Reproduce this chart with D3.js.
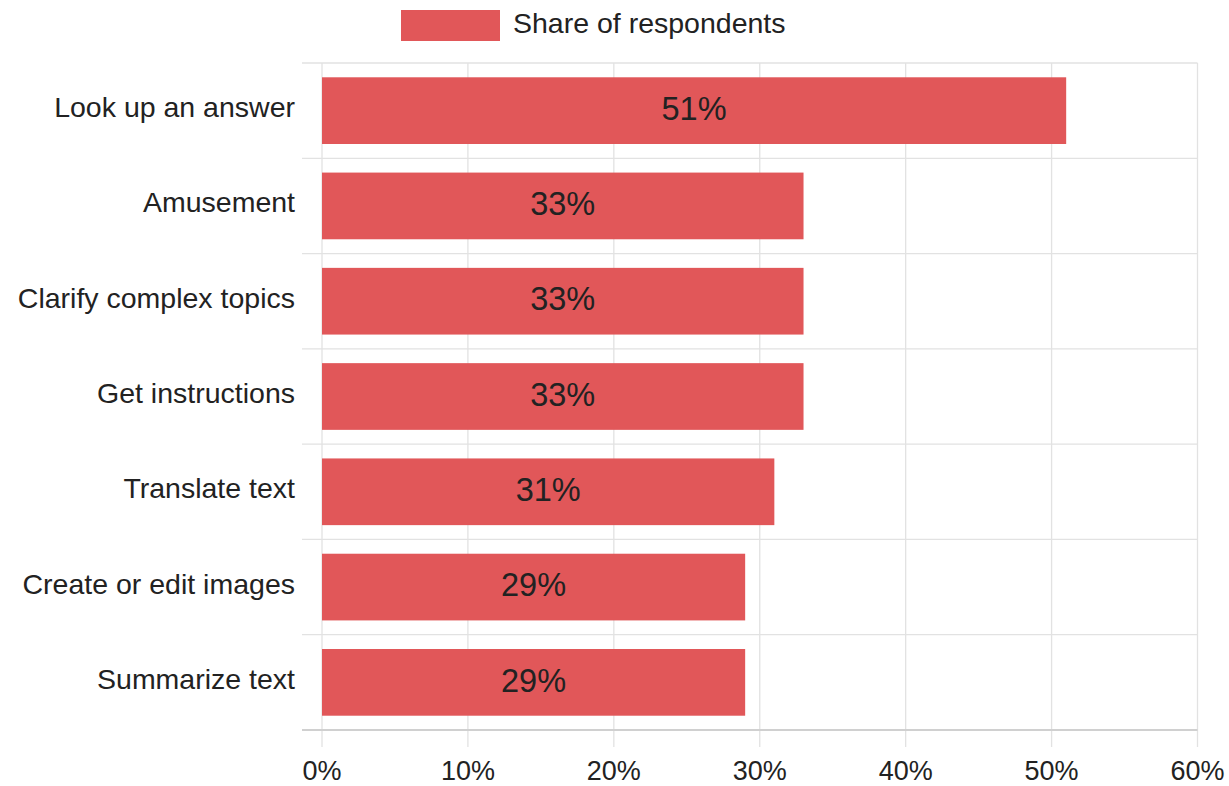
<!DOCTYPE html>
<html>
<head>
<meta charset="utf-8">
<script src="https://cdn.jsdelivr.net/npm/d3@7/dist/d3.min.js"></script>
<style>
  html, body { margin: 0; padding: 0; background: #fff; }
  svg { display: block; font-family: "Liberation Sans", Arial, sans-serif; }
</style>
</head>
<body>
<svg id="chart" width="1229" height="786"></svg>
<script>
const categories = ["Look up an answer", "Amusement", "Clarify complex topics", "Get instructions", "Translate text", "Create or edit images", "Summarize text"];
const values = [51, 33, 33, 33, 31, 29, 29];
const xTicks = [0, 10, 20, 30, 40, 50, 60];
const seriesName = "Share of respondents";

(function () {
const svg = d3.select("#chart");
const mLeft = 322, mRight = 1197.5, mTop = 63, mBottom = 730;
const color = "#e15759";
const gridColor = "#e2e2e2";
const textColor = "#222";

const x = d3.scaleLinear().domain([0, 60]).range([mLeft, mRight]);
const y = d3.scaleBand().domain(categories).range([mTop, mBottom]).paddingInner(0.3).paddingOuter(0.15);

// vertical grid lines (extend below as ticks)
svg.append("g").selectAll("line").data(xTicks).join("line")
  .attr("x1", d => x(d)).attr("x2", d => x(d))
  .attr("y1", mTop).attr("y2", mBottom + 17)
  .attr("stroke", gridColor).attr("stroke-width", 1.3);

// horizontal grid lines (band boundaries, extend left as ticks)
const bounds = categories.map(c => y(c) - y.step() * y.paddingInner() / 2);
bounds.push(mBottom);
svg.append("g").selectAll("line").data(bounds).join("line")
  .attr("x1", mLeft - 20).attr("x2", mRight)
  .attr("y1", d => d).attr("y2", d => d)
  .attr("stroke", (d, i) => i === bounds.length - 1 ? "#d0d0d0" : gridColor)
  .attr("stroke-width", (d, i) => i === bounds.length - 1 ? 1.8 : 1.3);

// bars
svg.append("g").selectAll("rect").data(values).join("rect")
  .attr("x", x(0))
  .attr("y", (d, i) => y(categories[i]))
  .attr("width", d => x(d) - x(0))
  .attr("height", y.bandwidth())
  .attr("fill", color);

// value labels
svg.append("g").selectAll("text").data(values).join("text")
  .attr("x", d => (x(0) + x(d)) / 2)
  .attr("y", (d, i) => y(categories[i]) + y.bandwidth() / 2 + 9.2)
  .attr("text-anchor", "middle")
  .attr("font-size", 32.5)
  .attr("fill", textColor)
  .text(d => d + "%");

// category labels
svg.append("g").selectAll("text").data(categories).join("text")
  .attr("x", mLeft - 27)
  .attr("y", d => y(d) + y.bandwidth() / 2 + 6.5)
  .attr("text-anchor", "end")
  .attr("font-size", 28.5)
  .attr("fill", textColor)
  .text(d => d);

// x tick labels
svg.append("g").selectAll("text").data(xTicks).join("text")
  .attr("x", d => x(d))
  .attr("y", 780)
  .attr("text-anchor", "middle")
  .attr("font-size", 27)
  .attr("fill", textColor)
  .text(d => d + "%");

// legend
svg.append("rect").attr("x", 401).attr("y", 10).attr("width", 99).attr("height", 31).attr("fill", color);
svg.append("text").attr("x", 513).attr("y", 33.3)
  .attr("font-size", 28.5).attr("fill", textColor).text(seriesName);
})();
</script>
</body>
</html>
